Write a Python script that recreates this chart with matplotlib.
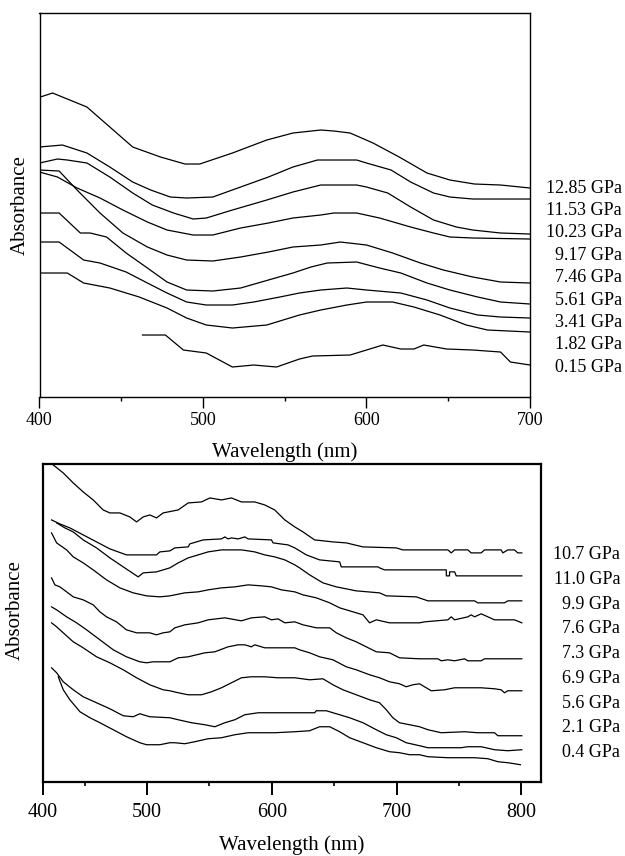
import matplotlib

matplotlib.use("Agg")
import matplotlib.pyplot as plt

plt.rcParams["font.family"] = ["Liberation Serif", "DejaVu Serif"]

# ---- upper panel: spectra 400-700 nm (arbitrary absorbance, offset traces)
top_labels = ["12.85 GPa", "11.53 GPa", "10.23 GPa", "9.17 GPa", "7.46 GPa",
              "5.61 GPa", "3.41 GPa", "1.82 GPa", "0.15 GPa"]

wl_1285 = [400, 400.5, 408, 429, 443, 457, 474, 489, 498, 518, 539, 555, 572, 580, 590, 604, 620, 637, 651, 666, 682, 700]
ab_1285 = [2.82, 3.00, 3.04, 2.90, 2.70, 2.50, 2.40, 2.33, 2.33, 2.44, 2.57, 2.64, 2.67, 2.66, 2.64, 2.54, 2.40, 2.24, 2.17, 2.13, 2.12, 2.09]

wl_1153 = [400, 414, 429, 443, 457, 468, 480, 490, 506, 523, 540, 555, 570, 594, 600, 615, 627, 641, 651, 665, 700]
ab_1153 = [2.50, 2.52, 2.44, 2.30, 2.15, 2.07, 2.00, 1.99, 2.00, 2.10, 2.20, 2.30, 2.37, 2.37, 2.34, 2.27, 2.15, 2.04, 2.00, 1.98, 1.98]

wl_1023 = [400, 411, 417, 429, 443, 457, 469, 482, 494, 502, 518, 539, 555, 572, 594, 600, 613, 627, 641, 655, 665, 682, 700]
ab_1023 = [2.34, 2.38, 2.37, 2.34, 2.20, 2.04, 1.92, 1.84, 1.78, 1.79, 1.87, 1.97, 2.05, 2.12, 2.12, 2.10, 2.04, 1.90, 1.77, 1.70, 1.67, 1.64, 1.63]

wl_917 = [400, 411, 423, 437, 451, 466, 478, 494, 506, 523, 540, 555, 572, 580, 594, 608, 627, 641, 651, 665, 700]
ab_917 = [2.25, 2.20, 2.09, 1.99, 1.87, 1.75, 1.67, 1.62, 1.62, 1.69, 1.74, 1.79, 1.82, 1.84, 1.84, 1.79, 1.70, 1.64, 1.60, 1.59, 1.58]

wl_746 = [400, 412, 423, 437, 451, 466, 478, 490, 506, 523, 540, 555, 572, 584, 600, 616, 633, 647, 665, 682, 700]
ab_746 = [2.27, 2.26, 2.07, 1.84, 1.64, 1.50, 1.42, 1.37, 1.36, 1.40, 1.45, 1.50, 1.52, 1.55, 1.52, 1.44, 1.34, 1.27, 1.20, 1.15, 1.14]

wl_561 = [400, 412, 425, 431, 441, 453, 466, 478, 490, 506, 523, 540, 555, 566, 576, 594, 608, 621, 637, 651, 668, 682, 700]
ab_561 = [1.84, 1.84, 1.64, 1.64, 1.60, 1.44, 1.29, 1.15, 1.07, 1.06, 1.09, 1.17, 1.24, 1.30, 1.34, 1.35, 1.29, 1.24, 1.14, 1.07, 1.00, 0.95, 0.93]

wl_341 = [400, 412, 427, 437, 453, 466, 478, 490, 502, 518, 531, 547, 559, 572, 588, 600, 621, 637, 651, 668, 682, 700]
ab_341 = [1.55, 1.55, 1.37, 1.34, 1.25, 1.14, 1.04, 0.95, 0.92, 0.92, 0.95, 1.00, 1.04, 1.07, 1.09, 1.07, 1.04, 0.97, 0.89, 0.82, 0.80, 0.79]

wl_182 = [400, 417, 427, 443, 461, 478, 490, 502, 518, 539, 559, 572, 588, 600, 616, 629, 645, 661, 674, 700]
ab_182 = [1.24, 1.24, 1.14, 1.09, 1.00, 0.89, 0.79, 0.72, 0.69, 0.72, 0.82, 0.87, 0.92, 0.95, 0.95, 0.90, 0.82, 0.72, 0.67, 0.65]

wl_015 = [463, 477, 488, 502, 518, 531, 545, 559, 567, 590, 600, 610, 621, 629, 635, 649, 665, 682, 688, 700]
ab_015 = [0.62, 0.62, 0.47, 0.44, 0.30, 0.32, 0.30, 0.38, 0.41, 0.42, 0.47, 0.52, 0.48, 0.48, 0.52, 0.48, 0.47, 0.45, 0.35, 0.32]

top_series = [(wl_1285, ab_1285), (wl_1153, ab_1153), (wl_1023, ab_1023),
              (wl_917, ab_917), (wl_746, ab_746), (wl_561, ab_561),
              (wl_341, ab_341), (wl_182, ab_182), (wl_015, ab_015)]

# ---- lower panel: spectra to 800 nm
bottom_labels = ["10.7 GPa", "11.0 GPa", "9.9 GPa", "7.6 GPa", "7.3 GPa",
                 "6.9 GPa", "5.6 GPa", "2.1 GPa", "0.4 GPa"]

wl_107 = [424.7, 432.7, 440.7, 448.7, 456.7, 464.7, 470.1, 478.1, 486.1, 491.5, 496.8, 502.1, 507.5, 512.8,
          524.9, 532.9, 543.6, 550.3, 559.6, 567.6, 575.6, 586.3, 594.3, 602.3, 610.4, 618.4,
          625.0, 634.3, 649.0, 659.7, 673.1, 699.8, 705.1,
          741.2, 743.9, 746.6, 757.2, 759.9, 767.9, 770.6, 783.9, 785.3, 789.3, 794.6, 797.3, 800.5]
ab_107 = [3.17, 3.09, 2.99, 2.90, 2.82, 2.72, 2.69, 2.69, 2.65, 2.60, 2.65, 2.67, 2.64, 2.69,
          2.72, 2.79, 2.80, 2.84, 2.82, 2.84, 2.80, 2.80, 2.77, 2.72, 2.62, 2.55,
          2.50, 2.42, 2.40, 2.39, 2.35, 2.34, 2.32,
          2.32, 2.29, 2.32, 2.32, 2.29, 2.29, 2.32, 2.32, 2.29, 2.32, 2.32, 2.29, 2.29]

wl_110 = [423.3, 430.0, 438.0, 448.7, 459.4, 470.1, 483.4, 507.5, 510.2, 518.2,
          522.2, 532.9, 534.2, 544.9, 559.6, 562.3, 564.9, 567.6, 573.0, 578.3, 581.0, 599.7, 601.0, 613.0, 618.4,
          627.7, 638.3, 654.4, 655.7, 685.1, 686.4, 690.4, 718.5,
          739.9, 740.0, 742.5, 742.6, 746.6, 747.9, 800.5]
ab_110 = [2.62, 2.58, 2.54, 2.47, 2.40, 2.33, 2.27, 2.27, 2.30, 2.31,
          2.34, 2.35, 2.38, 2.42, 2.43, 2.45, 2.43, 2.44, 2.43, 2.45, 2.43, 2.42, 2.39, 2.37, 2.34,
          2.27, 2.22, 2.20, 2.15, 2.15, 2.14, 2.12, 2.12,
          2.12, 2.06, 2.06, 2.10, 2.10, 2.06, 2.06]

wl_99 = [427.4, 434.0, 440.7, 448.7, 459.4, 470.1, 480.8, 492.8, 496.8, 507.5, 518.2,
         524.9, 532.9, 540.9, 548.9, 559.6, 575.6, 586.3, 594.3, 602.3, 610.4, 618.4,
         622.3, 630.3, 641.0, 651.7, 667.7, 686.4, 691.8, 715.8,
         725.2, 762.6, 765.2, 786.6, 789.3, 800.5]
ab_99 = [2.59, 2.54, 2.50, 2.42, 2.34, 2.24, 2.15, 2.05, 2.09, 2.10, 2.14,
         2.19, 2.24, 2.27, 2.30, 2.32, 2.32, 2.30, 2.27, 2.25, 2.22, 2.17,
         2.14, 2.07, 1.99, 1.95, 1.91, 1.89, 1.86, 1.85,
         1.81, 1.81, 1.79, 1.79, 1.81, 1.81]

wl_76 = [423.3, 427.4, 435.4, 440.7, 448.7, 456.7, 467.4, 478.1, 488.8, 499.5, 510.2, 518.2,
         530.2, 540.9, 548.9, 559.6, 570.3, 581.0, 591.7, 599.7, 607.7, 618.4,
         625.0, 635.7, 646.4, 654.4, 665.1, 673.1, 678.4, 683.8, 694.4, 718.5,
         722.5, 741.2, 743.9, 746.6, 757.2, 759.9, 762.6, 767.9, 773.3, 778.6, 794.6, 800.5]
ab_76 = [2.49, 2.39, 2.32, 2.25, 2.19, 2.12, 2.02, 1.94, 1.89, 1.86, 1.85, 1.86,
         1.89, 1.90, 1.92, 1.94, 1.95, 1.97, 1.96, 1.95, 1.92, 1.90,
         1.87, 1.84, 1.79, 1.74, 1.70, 1.67, 1.59, 1.62, 1.59, 1.59,
         1.60, 1.62, 1.65, 1.62, 1.65, 1.67, 1.65, 1.68, 1.65, 1.62, 1.62, 1.59]

wl_73 = [423.3, 426.0, 430.0, 435.4, 440.7, 448.7, 456.7, 462.1, 467.4, 475.4, 483.4, 491.5, 502.1, 507.5, 512.8, 518.2,
         522.2, 530.2, 540.9, 548.9, 562.3, 575.6, 583.6, 594.3, 599.7, 605.0, 610.4, 618.4,
         625.0, 635.7, 646.4, 651.7, 659.7, 667.7, 675.7, 683.8, 694.4, 702.4, 718.5,
         733.2, 735.9, 741.2, 746.6, 754.6, 757.2, 767.9, 770.6, 800.5]
ab_73 = [2.04, 1.97, 1.95, 1.90, 1.85, 1.82, 1.77, 1.70, 1.65, 1.60, 1.52, 1.49, 1.49, 1.47, 1.49, 1.50,
         1.54, 1.57, 1.59, 1.62, 1.64, 1.61, 1.64, 1.65, 1.62, 1.63, 1.59, 1.60,
         1.57, 1.54, 1.54, 1.49, 1.44, 1.40, 1.35, 1.30, 1.29, 1.24, 1.23,
         1.23, 1.21, 1.22, 1.21, 1.23, 1.21, 1.21, 1.23, 1.23]

wl_69 = [423.3, 427.4, 435.4, 443.4, 451.4, 462.1, 472.8, 483.4, 494.1, 499.5, 504.8, 518.2,
         524.9, 532.9, 546.3, 554.3, 564.9, 573.0, 578.3, 583.6, 586.3, 594.3, 618.4,
         622.3, 630.3, 638.3, 649.0, 659.7, 667.7, 678.4, 686.4, 694.4, 702.4, 707.8, 713.1, 718.5,
         722.5, 727.9, 738.5, 746.6, 757.2, 767.9, 778.6, 783.9, 786.6, 789.3, 800.5]
ab_69 = [1.75, 1.72, 1.65, 1.59, 1.52, 1.42, 1.32, 1.25, 1.20, 1.19, 1.20, 1.20,
         1.24, 1.25, 1.29, 1.30, 1.35, 1.37, 1.37, 1.35, 1.37, 1.34, 1.34,
         1.32, 1.29, 1.25, 1.22, 1.15, 1.12, 1.07, 1.04, 1.00, 0.98, 0.95, 0.97, 0.98,
         0.95, 0.91, 0.92, 0.94, 0.94, 0.94, 0.93, 0.92, 0.89, 0.91, 0.91]

wl_56 = [423.3, 427.4, 432.7, 440.7, 448.7, 459.4, 470.1, 480.8, 491.5, 502.1, 512.8, 518.2,
         524.9, 532.9, 543.6, 551.6, 559.6, 567.6, 575.6, 583.6, 594.3, 605.0, 618.4,
         630.3, 641.0, 649.0, 657.0, 667.7, 678.4, 686.4, 691.8, 697.1, 702.4, 710.5, 718.5,
         725.2, 735.9, 754.6, 765.2, 778.6, 781.3, 800.5]
ab_56 = [1.59, 1.55, 1.49, 1.40, 1.34, 1.25, 1.19, 1.12, 1.04, 0.97, 0.92, 0.91,
         0.89, 0.87, 0.87, 0.90, 0.94, 0.99, 1.04, 1.05, 1.05, 1.04, 1.04,
         1.02, 1.03, 0.97, 0.92, 0.87, 0.82, 0.79, 0.72, 0.64, 0.59, 0.57, 0.55,
         0.52, 0.49, 0.50, 0.49, 0.49, 0.46, 0.46]

wl_21 = [423.3, 427.4, 432.7, 440.7, 448.7, 459.4, 470.1, 480.8, 488.8, 494.1, 502.1, 518.2,
         524.9, 535.6, 546.3, 554.3, 562.3, 570.3, 578.3, 589.0, 602.3, 618.4,
         625.0, 634.3, 635.7, 643.7, 651.7, 662.4, 673.1, 683.8, 691.8, 699.8, 707.8, 718.5,
         725.2, 751.9, 757.2, 765.2, 767.9, 778.6, 789.3, 800.5]
ab_21 = [1.14, 1.09, 1.00, 0.92, 0.85, 0.79, 0.73, 0.66, 0.65, 0.68, 0.65, 0.64,
         0.62, 0.59, 0.57, 0.55, 0.59, 0.62, 0.67, 0.69, 0.69, 0.69,
         0.69, 0.69, 0.71, 0.71, 0.68, 0.64, 0.59, 0.52, 0.47, 0.44, 0.39, 0.36,
         0.34, 0.34, 0.35, 0.35, 0.35, 0.32, 0.31, 0.32]

wl_04 = [428.7, 432.7, 438.0, 446.1, 454.1, 462.1, 472.8, 483.4, 494.1, 499.5, 510.2, 518.2,
         522.2, 530.2, 538.2, 548.9, 559.6, 570.3, 581.0, 591.7, 602.3, 618.4,
         630.3, 638.3, 646.4, 654.4, 662.4, 673.1, 683.8, 694.4, 702.4, 710.5, 718.5,
         725.2, 741.2, 754.6, 762.6, 773.3, 781.3, 789.3, 799.4]
ab_04 = [1.05, 0.92, 0.82, 0.70, 0.64, 0.59, 0.52, 0.45, 0.39, 0.37, 0.37, 0.39,
         0.39, 0.38, 0.40, 0.43, 0.44, 0.47, 0.49, 0.49, 0.49, 0.50,
         0.51, 0.55, 0.55, 0.50, 0.44, 0.39, 0.34, 0.30, 0.29, 0.27, 0.27,
         0.25, 0.24, 0.24, 0.24, 0.23, 0.20, 0.19, 0.17]

bottom_series = [(wl_107, ab_107), (wl_110, ab_110), (wl_99, ab_99),
                 (wl_76, ab_76), (wl_73, ab_73), (wl_69, ab_69),
                 (wl_56, ab_56), (wl_21, ab_21), (wl_04, ab_04)]

fig = plt.figure(figsize=(6.25, 8.56), dpi=100)
ax_top = fig.add_axes([0.0632, 0.5362, 0.7848, 0.4486])
ax_bot = fig.add_axes([0.0683, 0.0868, 0.7965, 0.3706])

# upper panel
for wl, ab in top_series:
    ax_top.plot(wl, ab, color="black", lw=0.9)
ax_top.set_xlim(400, 700)
ax_top.set_ylim(0, 3.84)
ax_top.set_xticks([400, 500, 600, 700])
ax_top.set_xticks([450, 550, 650], minor=True)
ax_top.set_yticks([])
ax_top.tick_params(axis="x", which="major", direction="out", length=8, width=1.0, labelsize=13, pad=3)
ax_top.tick_params(axis="x", which="minor", direction="out", length=3, width=1.0)
for spine in ax_top.spines.values():
    spine.set_linewidth(1.0)
ax_top.set_xlabel("Wavelength (nm)", fontsize=15, va="center")
ax_top.xaxis.set_label_coords(0.5, -0.143)
ax_top.set_ylabel("Absorbance", fontsize=15, va="center")
ax_top.yaxis.set_label_coords(-0.04, 0.5)
for i, label in enumerate(top_labels):
    ax_top.text(1.1876, 0.544 - i * 0.0583, label, transform=ax_top.transAxes,
                ha="right", va="center", fontsize=13)

# lower panel
for wl, ab in bottom_series:
    ax_bot.plot(wl, ab, color="black", lw=0.9)
ax_bot.set_xlim(416.2, 815.5)
ax_bot.set_ylim(0, 3.175)
ax_bot.set_xticks([416.2, 500, 600, 700, 800])
ax_bot.set_xticklabels(["400", "500", "600", "700", "800"])
ax_bot.set_xticks([450, 550, 650, 750], minor=True)
ax_bot.set_yticks([])
ax_bot.tick_params(axis="x", which="major", direction="out", length=9, width=1.4, labelsize=14.5, pad=6)
ax_bot.tick_params(axis="x", which="minor", direction="out", length=3, width=1.2)
for spine in ax_bot.spines.values():
    spine.set_linewidth(1.6)
ax_bot.set_xlabel("Wavelength (nm)", fontsize=15, va="center")
ax_bot.xaxis.set_label_coords(0.5, -0.199)
ax_bot.set_ylabel("Absorbance", fontsize=15, va="center")
ax_bot.yaxis.set_label_coords(-0.056, 0.54)
for i, label in enumerate(bottom_labels):
    ax_bot.text(1.160, 0.7156 - i * 0.078, label, transform=ax_bot.transAxes,
                ha="right", va="center", fontsize=13)

fig.savefig("out.png", dpi=100)
plt.close(fig)
